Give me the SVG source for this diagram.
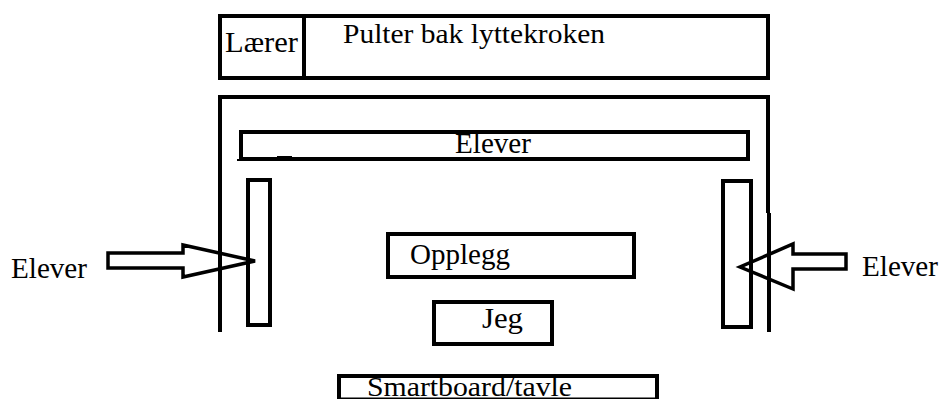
<svg xmlns="http://www.w3.org/2000/svg" width="940" height="399" viewBox="0 0 940 399">
<style>
.box{fill:#fff;stroke:#000;stroke-width:4}
.wall{fill:none;stroke:#000;stroke-width:4}
.arrow{fill:none;stroke:#000;stroke-width:3.5}
</style>
<rect width="940" height="399" fill="#fff"/>
<g id="pulter">
<rect class="box" x="220" y="16" width="548" height="62"/>
<line x1="304" y1="16" x2="304" y2="78" stroke="#000" stroke-width="4"/>
<text x="225" y="52" font-size="29" font-family="Liberation Serif" textLength="73" lengthAdjust="spacingAndGlyphs">Lærer</text>
<text x="343" y="43" font-size="28" font-family="Liberation Serif" textLength="262" lengthAdjust="spacingAndGlyphs">Pulter bak lyttekroken</text>
</g>
<g id="rom">
<path class="wall" d="M220,332 V97 H768 V213 M769,213 V332"/>
</g>
<g id="elever-top">
<rect class="box" x="241" y="132" width="507" height="27"/>
<text x="455" y="153" font-size="29" font-family="Liberation Serif" textLength="76" lengthAdjust="spacingAndGlyphs">Elever</text>
<path d="M237,160 H260 M277,157 H292" stroke="#000" stroke-width="2"/>
</g>
<g id="benk-venstre">
<rect class="box" x="248" y="180" width="22" height="145"/>
</g>
<g id="benk-hoyre">
<rect class="box" x="723" y="181" width="28" height="146"/>
</g>
<g id="opplegg">
<rect class="box" x="388" y="234" width="246" height="43"/>
<text x="410" y="264" font-size="29" font-family="Liberation Serif" textLength="100" lengthAdjust="spacingAndGlyphs">Opplegg</text>
</g>
<g id="jeg">
<rect class="box" x="434" y="302" width="118" height="42"/>
<text x="482" y="328" font-size="30" font-family="Liberation Serif" textLength="41" lengthAdjust="spacingAndGlyphs">Jeg</text>
</g>
<g id="smartboard">
<path class="wall" d="M339,399 V376 H657 V399"/>
<text x="367" y="396" font-size="28" font-family="Liberation Serif" textLength="205" lengthAdjust="spacingAndGlyphs">Smartboard/tavle</text>
<line x1="337" y1="398.5" x2="659" y2="398.5" stroke="#000" stroke-width="2"/>
</g>
<g id="connectors">
<path class="arrow" d="M108,253 H183 V245 L255,261 L183,277 V268 H108 Z"/>
<path class="arrow" d="M846,254 H793 V244 L740,267 L793,289 V269 H846 Z"/>
</g>
<g id="labels">
<text x="11" y="278" font-size="30" font-family="Liberation Serif" textLength="76" lengthAdjust="spacingAndGlyphs">Elever</text>
<text x="862" y="276" font-size="30" font-family="Liberation Serif" textLength="76" lengthAdjust="spacingAndGlyphs">Elever</text>
</g>
</svg>
